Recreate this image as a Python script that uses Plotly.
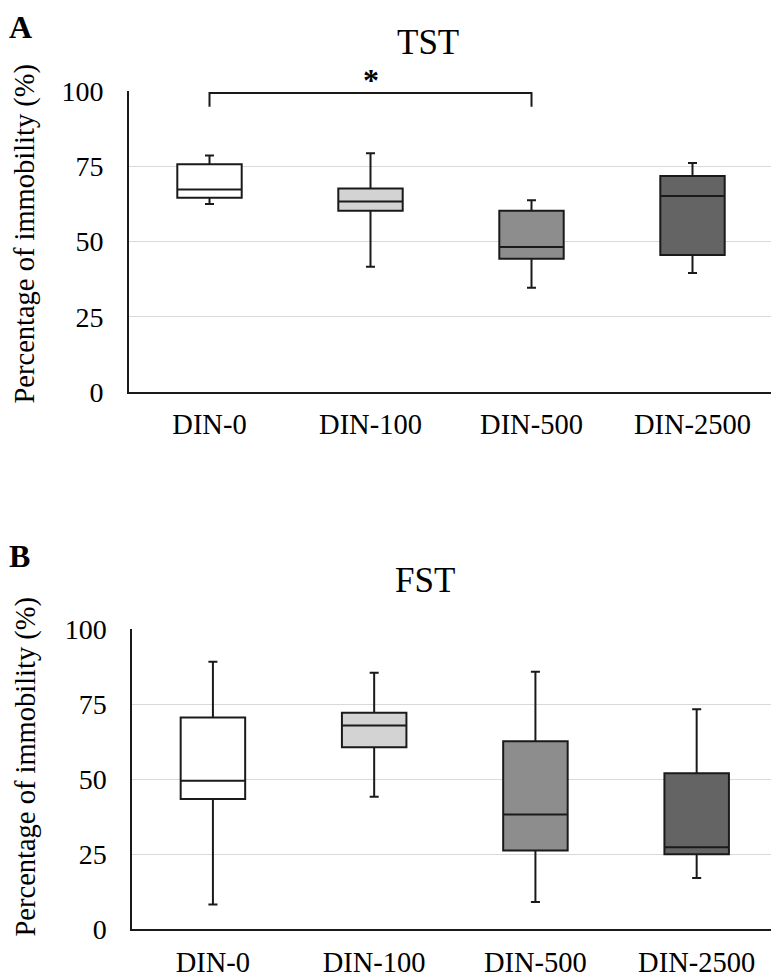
import plotly.graph_objects as go

categories = ["DIN-0", "DIN-100", "DIN-500", "DIN-2500"]

tst_lower = [62.5, 41.6, 34.6, 39.5]
tst_q1 = [64.5, 60.2, 44.3, 45.5]
tst_median = [67.3, 63.3, 48.2, 65.1]
tst_q3 = [75.7, 67.6, 60.2, 71.8]
tst_upper = [78.6, 79.3, 63.7, 76.1]

fst_lower = [8.3, 44.1, 9.1, 17.1]
fst_q1 = [43.4, 60.6, 26.2, 25.0]
fst_median = [49.5, 67.9, 38.2, 27.3]
fst_q3 = [70.5, 72.1, 62.6, 52.0]
fst_upper = [89.1, 85.4, 85.8, 73.3]

y_ticks = [0, 25, 50, 75, 100]
fills = ["#ffffff", "#d3d3d3", "#8d8d8d", "#646464"]

FONT = "Liberation Serif, Times New Roman, serif"
# page body has an 8px margin; figure is sized to fit the 779x980 window
OFF = 8
W, H = 779 - OFF, 980 - OFF


def px(x):
    return (x - OFF) / W


def py(y):
    return 1 - (y - OFF) / H


fig = go.Figure()


def add_boxes(lo, q1, med, q3, up, xa, ya):
    for i, c in enumerate(categories):
        fig.add_trace(go.Box(
            x=[c], q1=[q1[i]], median=[med[i]], q3=[q3[i]],
            lowerfence=[lo[i]], upperfence=[up[i]],
            fillcolor=fills[i], line=dict(color="#1a1a1a", width=2),
            width=0.4, whiskerwidth=0.14, boxpoints=False,
            showlegend=False, xaxis=xa, yaxis=ya, hoverinfo="skip"))


add_boxes(tst_lower, tst_q1, tst_median, tst_q3, tst_upper, "x", "y")
add_boxes(fst_lower, fst_q1, fst_median, fst_q3, fst_upper, "x2", "y2")


def yax(domain, anchor):
    return dict(domain=domain, anchor=anchor, range=[0, 100], tickvals=y_ticks,
                showgrid=True, gridcolor="#d9d9d9", gridwidth=1.3,
                showline=True, linecolor="#1a1a1a", linewidth=2, ticks="",
                zeroline=False, ticklabelstandoff=18, automargin=False,
                tickfont=dict(family=FONT, size=28, color="black"))


def xax(domain, anchor):
    return dict(domain=domain, anchor=anchor, type="category",
                categoryorder="array", categoryarray=categories,
                range=[-0.5, 3.5], automargin=False,
                showline=True, linecolor="#1a1a1a", linewidth=2, ticks="",
                showgrid=False, ticklabelstandoff=6,
                tickfont=dict(family=FONT, size=28.5, color="black"))


fig.update_layout(
    width=W, height=H, margin=dict(l=0, r=0, t=0, b=0, autoexpand=False),
    paper_bgcolor="white", plot_bgcolor="white", boxmode="overlay",
    xaxis=xax([px(129), px(773)], "y"),
    yaxis=yax([py(392), py(91)], "x"),
    xaxis2=xax([px(132.3), min(1.0, px(777.3))], "y2"),
    yaxis2=yax([py(929.3), py(629)], "x2"),
    showlegend=False,
)

# significance bracket between DIN-0 and DIN-500 on TST
bracket_top = 99.3
bracket_end = 94.8
fig.add_shape(type="path", xref="x", yref="y",
              path=f"M 0 {bracket_end} L 0 {bracket_top} L 2 {bracket_top} L 2 {bracket_end}",
              line=dict(color="#1a1a1a", width=2))
fig.add_annotation(x=1, y=py(80), xref="x", yref="paper", text="<b>*</b>", showarrow=False,
                   yanchor="middle", font=dict(family=FONT, size=32, color="black"))

annots = [
    dict(x=428, y=42, text="TST", size=35, anchor="middle"),
    dict(x=425, y=580, text="FST", size=35, anchor="middle"),
    dict(x=20.5, y=8, text="<b>A</b>", size=32, anchor="top"),
    dict(x=19.5, y=556, text="<b>B</b>", size=32, anchor="middle"),
]
for a in annots:
    fig.add_annotation(x=px(a["x"]), y=py(a["y"]), xref="paper", yref="paper", text=a["text"],
                       showarrow=False, xanchor="center", yanchor=a["anchor"], borderpad=0,
                       font=dict(family=FONT, size=a["size"], color="black"))

for yc in [233.5, 766.5]:
    fig.add_annotation(x=0, y=py(yc), xref="paper", yref="paper",
                       text="Percentage of immobility (%)", textangle=-90,
                       showarrow=False, xanchor="left", yanchor="middle", borderpad=0,
                       font=dict(family=FONT, size=28.5, color="black"))

fig.write_html("out.html")
